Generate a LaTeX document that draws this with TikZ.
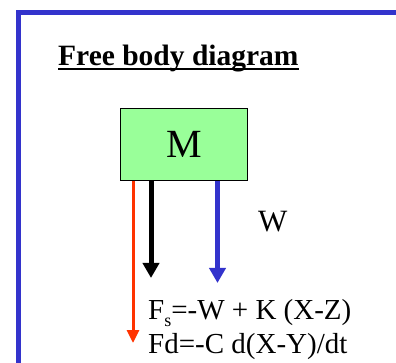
\documentclass[tikz,border=0pt]{standalone}
\usepackage{fontspec}
\setmainfont{Liberation Serif}
\usetikzlibrary{arrows.meta}
\definecolor{massgreen}{RGB}{153,255,153}
\definecolor{frameblue}{RGB}{51,51,204}
\definecolor{forcered}{RGB}{255,51,0}
\newcommand\thickul[1]{\setbox0\hbox{#1}\rlap{\rule[-4.5pt]{\wd0}{2.5pt}}\box0}
\begin{document}
\begin{tikzpicture}[x=1pt,y=-1pt,
    mass/.style={draw, fill=massgreen, minimum width=127pt, minimum height=72pt, inner sep=0pt, font=\fontsize{40}{40}\selectfont},
    force/.style={line width=5pt, -{Triangle[width=16pt,length=15pt]}},
    lbl/.style={anchor=base west, inner sep=0pt, font=\fontsize{29}{29}\selectfont}
  ]
  \useasboundingbox (0,0) rectangle (396,363);
  % frame
  \draw[frameblue, line width=4.5pt] (18.5,400) |- (420,12.5);
  \node[lbl, font=\bfseries\fontsize{29.5}{29.5}\selectfont] (title) at (58,66) {\thickul{Free body diagram}};
  \node[mass] (M) at (184,144.5) {M};
  % forces
  \coordinate (fd) at (133,343);
  \coordinate (fs) at (151,278);
  \coordinate (w) at (217.5,283);
  \draw[force, forcered, line width=3pt, -{Triangle[width=12pt,length=13pt]}] (M.south -| fd) -- (fd);
  \draw[force, black] (M.south -| fs) -- (fs);
  \draw[force, frameblue] (M.south -| w) -- (w);
  \node[lbl, font=\fontsize{31}{31}\selectfont] (wlbl) at (258,232) {W};
  \node[lbl] (eqs) at (148,319) {F\raisebox{-7pt}{\fontsize{18}{18}\selectfont s}=-W + K (X-Z)};
  \node[lbl] (eqd) at (148,353) {Fd=-C d(X-Y)/dt};
\end{tikzpicture}
\end{document}
